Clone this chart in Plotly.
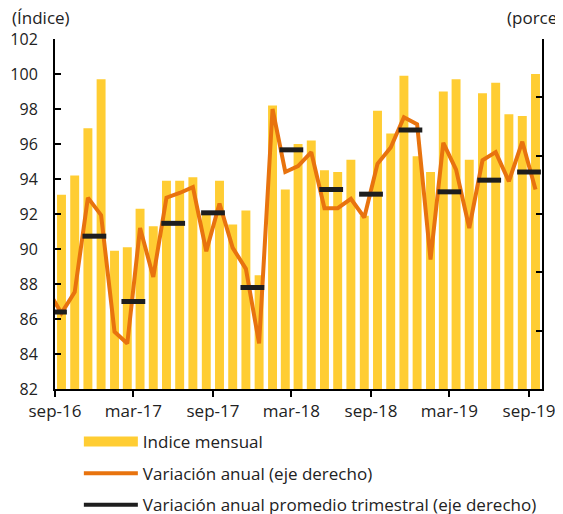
"""
Índice mensual con variación anual (barras + líneas, doble eje)
"""
import plotly.graph_objects as go
import pandas as pd

# datos
meses = pd.date_range('2016-09-01', '2019-09-01', freq='MS')

indice_mensual = [
    93.1, 94.2, 96.9, 99.7, 89.9, 90.1, 92.3, 91.3, 93.9, 93.9, 94.1, 92.1, 93.9,
    91.4, 92.2, 88.5, 98.2, 93.4, 96.0, 96.2, 94.5, 94.4, 95.1, 91.9, 97.9,
    96.6, 99.9, 95.3, 94.4, 99.0, 99.7, 95.1, 98.9, 99.5, 97.7, 97.6, 100.0,
]

# variación anual (incluye ago-16, que queda fuera del rango visible)
meses_var = pd.date_range('2016-08-01', '2019-09-01', freq='MS')
variacion_anual = [
    -6.6,
    -8.5, -6.7, 1.4, -0.1, -10.1, -11.1, -1.2, -5.4, 1.4, 1.8, 2.3, -3.2, 0.9,
    -2.9, -4.7, -11.1, 9.0, 3.6, 4.1, 5.3, 0.5, 0.5, 1.3, -0.3, 4.3,
    5.7, 8.3, 7.7, -3.9, 6.1, 3.8, -1.2, 4.6, 5.3, 2.8, 6.2, 2.1,
]

trimestres = pd.date_range('2016-09-01', '2019-09-01', freq='3MS')
promedio_trimestral = [-8.4, -1.9, -7.5, -0.8, 0.1, -6.3, 5.5, 2.1, 1.7, 7.2, 1.9, 2.9, 3.6]

tick_fechas = pd.date_range('2016-09-01', '2019-09-01', freq='6MS')
tick_textos = ['sep-16', 'mar-17', 'sep-17', 'mar-18', 'sep-18', 'mar-19', 'sep-19']

AMARILLO = '#FFCD33'
NARANJA = '#E8730E'
NEGRO = '#1E1E1E'
FUENTE = 'Open Sans'

fig = go.Figure()

# barras: índice mensual
fig.add_trace(go.Bar(
    x=meses,
    y=indice_mensual,
    xperiod='M1',
    xperiodalignment='middle',
    marker=dict(color=AMARILLO, line=dict(width=0)),
    name='Indice mensual',
    showlegend=False,
    yaxis='y'
))

# variación anual
fig.add_trace(go.Scatter(
    x=meses_var,
    y=variacion_anual,
    xperiod='M1',
    xperiodalignment='middle',
    mode='lines',
    line=dict(color=NARANJA, width=4),
    name='Variación anual (eje derecho)',
    showlegend=False,
    yaxis='y2'
))

# promedio trimestral (guiones)
fig.add_trace(go.Scatter(
    x=trimestres,
    y=promedio_trimestral,
    mode='markers',
    marker=dict(symbol='line-ew', size=17, line=dict(color=NEGRO, width=5)),
    name='Variación anual promedio trimestral (eje derecho)',
    showlegend=False,
    yaxis='y2'
))

# entradas de leyenda
for nombre, color, ancho, grupo in [
    ('Indice mensual', AMARILLO, 10, 'a'),
    ('Variación anual (eje derecho)', NARANJA, 4, 'b'),
    ('Variación anual promedio trimestral (eje derecho)', NEGRO, 4, 'c'),
]:
    fig.add_trace(go.Scatter(
        x=[None], y=[None],
        mode='lines',
        line=dict(color=color, width=ancho),
        name=nombre,
        legendgroup=grupo,
        yaxis='y2'
    ))

eje = dict(
    ticklen=6,
    tickwidth=2,
    tickcolor='black',
    showline=True,
    linecolor='black',
    linewidth=2,
    showgrid=False,
    zeroline=False,
    automargin=False,
)

# la página desplaza el gráfico 8 px (margen del body): márgenes compensados
fig.update_layout(
    width=563,
    height=514,
    margin=dict(l=47, r=29, t=31, b=133, autoexpand=False),
    paper_bgcolor='white',
    plot_bgcolor='white',
    font=dict(family=FUENTE, size=17, color='#222222'),
    bargap=0.3,
    xaxis=dict(
        type='date',
        range=['2016-09-01', '2019-10-01'],
        tickvals=tick_fechas,
        ticktext=tick_textos,
        ticks='outside',
        **eje
    ),
    yaxis=dict(
        range=[82, 102],
        dtick=2,
        ticks='inside',
        ticklabelstandoff=12,
        tickfont=dict(size=16),
        **eje
    ),
    yaxis2=dict(
        range=[-15, 15],
        dtick=5,
        overlaying='y',
        side='right',
        ticks='inside',
        ticklabelstandoff=12,
        tickfont=dict(size=16),
        **eje
    ),
    legend=dict(
        x=0.049,
        y=-0.1,
        xanchor='left',
        yanchor='top',
        orientation='v',
        itemwidth=54,
        tracegroupgap=6.5,
        font=dict(size=17),
        bgcolor='rgba(0,0,0,0)',
    ),
    annotations=[
        dict(text='(Índice)', xref='paper', yref='paper', x=-0.092, y=1.06,
             xanchor='left', yanchor='middle', showarrow=False, font=dict(size=17)),
        dict(text='(porcentaje)', xref='paper', yref='paper', x=0.924, y=1.06,
             xanchor='left', yanchor='middle', showarrow=False, font=dict(size=17)),
    ],
)

fig.write_html("out.html")
